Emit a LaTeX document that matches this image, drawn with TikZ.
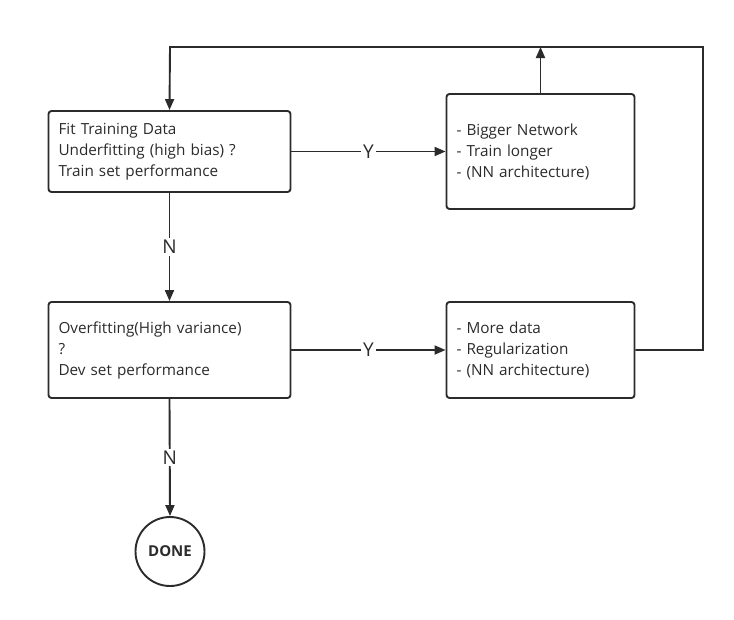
\documentclass[tikz,border=0pt]{standalone}
\usepackage{fontspec}
\setmainfont{Open Sans}
\usetikzlibrary{arrows.meta}
\definecolor{ink}{HTML}{2B2B2B}
\tikzset{
  box/.style={draw=ink, line width=1.9pt, rounded corners=3pt, align=left, anchor=center,
    inner xsep=10pt, inner ysep=0pt, font=\fontsize{15.3}{21}\selectfont, text=ink},
  conn/.style={draw=ink, line width=1.9pt, -{Triangle[length=11pt,width=9pt]}},
  lab/.style={fill=white, inner sep=2pt, font=\fontsize{19}{22}\selectfont, text=ink},
  endc/.style={draw=ink, line width=1.9pt, circle, minimum size=69pt, inner sep=0pt,
    font=\bfseries\fontsize{15}{17}\selectfont, text=ink}
}
\begin{document}
\begin{tikzpicture}[x=1pt,y=-1pt]
\useasboundingbox (0,0) rectangle (734,619);
\node[box, text width=222pt, minimum height=81pt] (b1) at (169.5,151.5)
  {Fit Training Data\\Underfitting (high bias) ?\\Train set performance};
\node[box, text width=168pt, minimum height=115pt] (b2) at (540.5,151.5)
  {- Bigger Network\\- Train longer\\- (NN architecture)};
\node[box, text width=222pt, minimum height=96pt] (b3) at (169.5,350)
  {Overfitting(High variance)\\?\\Dev set performance};
\node[box, text width=168pt, minimum height=96pt] (b4) at (540.5,350)
  {- More data\\- Regularization\\- (NN architecture)};
\node[endc] (done) at (170,551.5) {DONE};
\coordinate (tr) at (703,47);
\coordinate (tl) at (170,47);
\draw[conn] (b1.east) -- node[lab]{Y} (b1.east -| b2.west);
\draw[conn] (b3.east) -- node[lab]{Y} (b3.east -| b4.west);
\draw[conn] (b1.south) -- node[lab]{N} (b3.north);
\draw[conn] (b3.south) -- node[lab]{N} (done.north);
\draw[conn] (b2.north) -- (b2.north |- tr);
\draw[conn] (b4.east) -| (tr) -- (tl) -- (b1.north);
\end{tikzpicture}
\end{document}
